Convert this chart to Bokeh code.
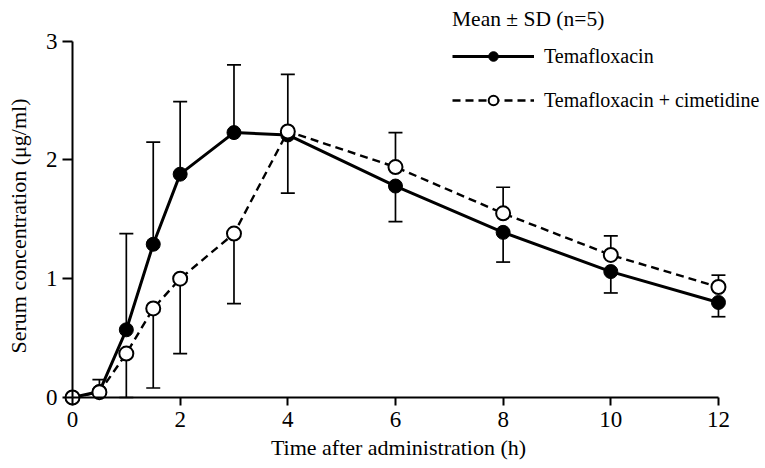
import math
from bokeh.plotting import figure
from bokeh.models import Range1d, FixedTicker, Legend, LegendItem, Label, ColumnDataSource
from bokeh.embed import file_html
from bokeh.resources import INLINE

# ---- data ----
time_h = [0, 0.5, 1, 1.5, 2, 3, 4, 6, 8, 10, 12]
tema_mean = [0.0, 0.05, 0.57, 1.29, 1.88, 2.23, 2.21, 1.78, 1.39, 1.06, 0.80]
tema_sd = [0.0, 0.10, 0.81, 0.86, 0.61, 0.57, 0.51, 0.30, 0.25, 0.18, 0.12]
tema_dir = [1, 1, 1, 1, 1, 1, 1, -1, -1, -1, -1]
cime_mean = [0.0, 0.045, 0.37, 0.75, 1.00, 1.38, 2.24, 1.94, 1.55, 1.20, 0.93]
cime_sd = [0.0, 0.0, 0.37, 0.67, 0.63, 0.59, 0.52, 0.29, 0.22, 0.16, 0.10]
cime_dir = [-1, -1, -1, -1, -1, -1, -1, 1, 1, 1, 1]
x_ticks = [0, 2, 4, 6, 8, 10, 12]
y_ticks = [0, 1, 2, 3]
x_label = "Time after administration (h)"
y_label = "Serum concentration (\u03bcg/ml)"
legend_title = "Mean \u00b1 SD (n=5)"
name_a = "Temafloxacin"
name_b = "Temafloxacin + cimetidine"

FONT = "Liberation Serif"
W, H = 765, 468

p = figure(width=W, height=H, output_backend="svg", toolbar_location=None,
           x_range=Range1d(-1.3375, 12.874), y_range=Range1d(-0.5976, 3.3418),
           min_border_left=0, min_border_right=0, min_border_top=0, min_border_bottom=0)
p.outline_line_color = None
p.grid.visible = False
p.background_fill_color = "white"
p.border_fill_color = "white"

for ax in (p.xaxis[0], p.yaxis[0]):
    ax.fixed_location = 0
    ax.axis_line_width = 2
    ax.axis_line_color = "black"
    ax.major_tick_line_width = 2
    ax.major_tick_line_color = "black"
    ax.major_tick_in = 0
    ax.minor_tick_line_color = None
    ax.major_label_text_font = FONT
    ax.major_label_text_font_size = "23px"
    ax.major_label_text_color = "black"

p.xaxis[0].ticker = FixedTicker(ticks=x_ticks)
p.yaxis[0].ticker = FixedTicker(ticks=y_ticks)
p.xaxis[0].bounds = (x_ticks[0], x_ticks[-1])
p.yaxis[0].bounds = (y_ticks[0], y_ticks[-1])
p.xaxis[0].major_tick_out = 8
p.yaxis[0].major_tick_out = 10
p.xaxis[0].major_label_standoff = 6
p.yaxis[0].major_label_standoff = 5


def err_source(mean, sd, direction):
    xs, y0, y1 = [], [], []
    for t, m, s, d in zip(time_h, mean, sd, direction):
        if s <= 0:
            continue
        xs.append(t)
        y0.append(m)
        y1.append(max(0.0, m + d * s))
    return ColumnDataSource(dict(x=xs, y0=y0, y1=y1))


for mean, sd, direction in ((tema_mean, tema_sd, tema_dir), (cime_mean, cime_sd, cime_dir)):
    src = err_source(mean, sd, direction)
    p.segment(x0="x", y0="y0", x1="x", y1="y1", source=src, line_color="black", line_width=1.7)
    p.scatter(x="x", y="y1", source=src, marker="dash", size=14, line_color="black", line_width=1.7)

line_a = p.line(time_h, tema_mean, line_color="black", line_width=3)
line_b = p.line(time_h, cime_mean, line_color="black", line_width=2.4, line_dash="8 5")
pts_a = p.scatter(time_h, tema_mean, marker="circle", size=14, fill_color="black",
                  line_color="black", line_width=1)
pts_b = p.scatter(time_h, cime_mean, marker="circle", size=14, fill_color="white",
                  line_color="black", line_width=2)

legend = Legend(items=[LegendItem(label=name_a, renderers=[line_a, pts_a]),
                       LegendItem(label=name_b, renderers=[line_b, pts_b])],
                location=(452, 356))
legend.title = legend_title
legend.title_text_font = FONT
legend.title_text_font_size = "21.5px"
legend.title_text_font_style = "normal"
legend.title_text_color = "black"
legend.title_standoff = 12
legend.label_text_font = FONT
legend.label_text_font_size = "20px"
legend.label_text_color = "black"
legend.padding = 0
legend.margin = 0
legend.spacing = 20
legend.glyph_width = 82
legend.glyph_height = 24
legend.label_height = 24
legend.label_standoff = 10
legend.border_line_color = None
legend.background_fill_alpha = 0
p.add_layout(legend)

p.add_layout(Label(x=398, y=21, x_units="screen", y_units="screen", text=x_label,
                   text_font=FONT, text_font_size="22px", text_color="black",
                   text_align="center", text_baseline="middle"))
p.add_layout(Label(x=18, y=242.5, x_units="screen", y_units="screen", text=y_label,
                   angle=math.pi / 2, text_font=FONT, text_font_size="22px", text_color="black",
                   text_align="center", text_baseline="middle"))

open("out.html", "w").write(file_html(p, INLINE))
